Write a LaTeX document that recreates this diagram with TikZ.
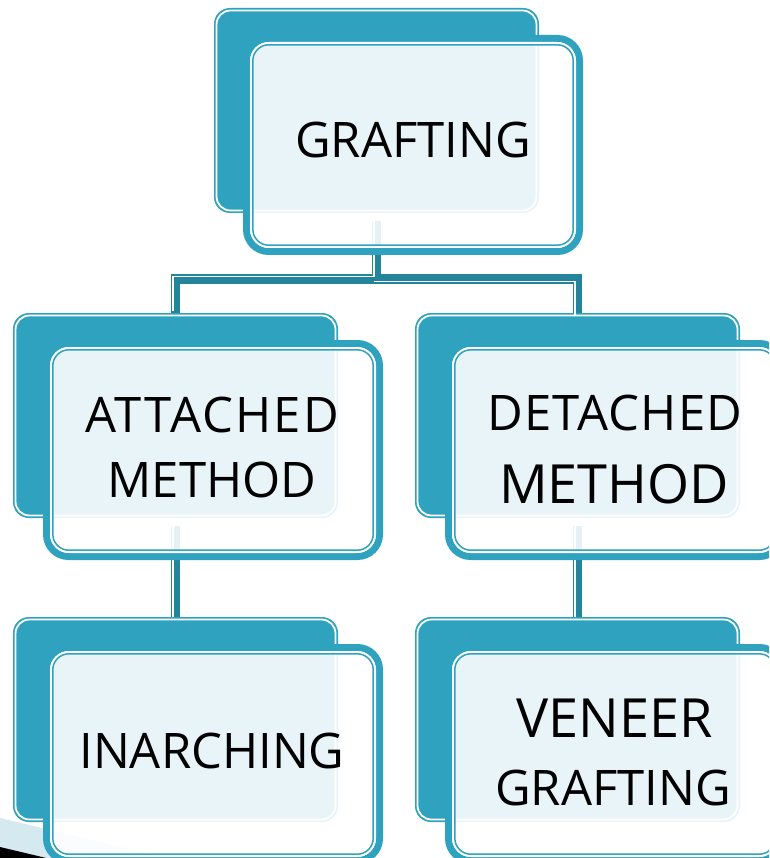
\documentclass[tikz,border=0pt]{standalone}
\usepackage{fontspec}
\setmainfont{Open Sans}
\definecolor{tealA}{RGB}{46,162,191}
\definecolor{tealD}{RGB}{35,132,155}
\definecolor{bandc}{RGB}{213,233,240}
\tikzset{
  backbox/.style={rectangle, rounded corners=16pt, fill=tealA, minimum width=325pt, minimum height=205pt, inner sep=0pt, outer sep=0pt, anchor=north west},
  frontbox/.style={rectangle, rounded corners=22pt, draw=tealA, line width=7pt, fill=white, fill opacity=0.89, minimum width=333pt, minimum height=213pt, inner sep=0pt, outer sep=0pt, anchor=north west},
  lbl/.style={font=\fontsize{49}{58}\selectfont, anchor=base, inner sep=0pt, text=black},
  biglbl/.style={font=\fontsize{54}{62}\selectfont},
  conn/.style={draw=tealD, line width=9pt},
  hl/.style={draw=white, line width=1.6pt},
}
\newcommand{\backpair}[3]{%
  \node[backbox] (#1) at (#2,#3) {};
  \draw[white, line width=1.8pt, rounded corners=14pt] ([shift={(2.5,2.5)}]#1.north west) rectangle ([shift={(-2.5,-2.5)}]#1.south east);
}
\newcommand{\frontpair}[3]{%
  \node[frontbox] (#1) at ({#2+3.5},{#3+3.5}) {};
  \draw[white, line width=2pt, rounded corners=18pt] ([shift={(4.5,4.5)}]#1.north west) rectangle ([shift={(-4.5,-4.5)}]#1.south east);
  \draw[tealA, line width=1.5pt, rounded corners=16pt] ([shift={(6.3,6.3)}]#1.north west) rectangle ([shift={(-6.3,-6.3)}]#1.south east);
}
\begin{document}
\begin{tikzpicture}[x=1pt, y=-1pt]
\useasboundingbox (0,0) rectangle (769,858);
\clip (0,0) rectangle (769,858);
% background decoration
\fill[bandc] (0,818) -- (450,926) -- (0,926) -- cycle;
\fill[black] (0,847) -- (80,866) -- (0,866) -- cycle;
% back boxes
\backpair{gb}{214}{8}
\backpair{ab}{13}{313}
\backpair{db}{415}{313}
\backpair{ib}{13}{617}
\backpair{vb}{415}{617}
% connectors
\coordinate (j) at (376.5,279);
\draw[conn] ([yshift=-8pt]gb.south) -- (j) -| (ab.north);
\draw[conn] (j) -| (db.north);
\draw[conn] ([yshift=-8pt]ab.south) -- (ib.north);
\draw[conn] ([yshift=-8pt]db.south) -- (vb.north);
\begin{scope}[transform canvas={shift={(-2.5pt,2.5pt)}}]
  \draw[hl] ([yshift=-8pt]gb.south) -- (j) -| (ab.north);
\end{scope}
\begin{scope}[transform canvas={shift={(-2.5pt,-2.5pt)}}]
  \draw[hl] (j) -| (db.north);
\end{scope}
\begin{scope}[transform canvas={shift={(-2.5pt,0pt)}}]
  \draw[hl] ([yshift=-8pt]ab.south) -- (ib.north);
  \draw[hl] ([yshift=-8pt]db.south) -- (vb.north);
\end{scope}
% front boxes
\frontpair{g}{243}{35}
\frontpair{a}{43}{340}
\frontpair{d}{445}{340}
\frontpair{i}{43}{644}
\frontpair{v}{445}{644}
% labels
\node[lbl] (t1) at (413,158) {GRAFTING};
\node[lbl] (t2a) at (212,432) {\addfontfeatures{LetterSpace=4.2}ATTACHED};
\node[lbl] (t2b) at (212,497) {METHOD};
\node[lbl] (t3a) at (615,430) {\addfontfeatures{LetterSpace=2.2}DETACHED};
\node[lbl, biglbl] (t3b) at (614,503) {METHOD};
\node[lbl] (t4) at (212,768) {INARCHING};
\node[lbl, biglbl] (t5a) at (615,737) {VENEER};
\node[lbl] (t5b) at (613,805) {GRAFTING};
\end{tikzpicture}
\end{document}
